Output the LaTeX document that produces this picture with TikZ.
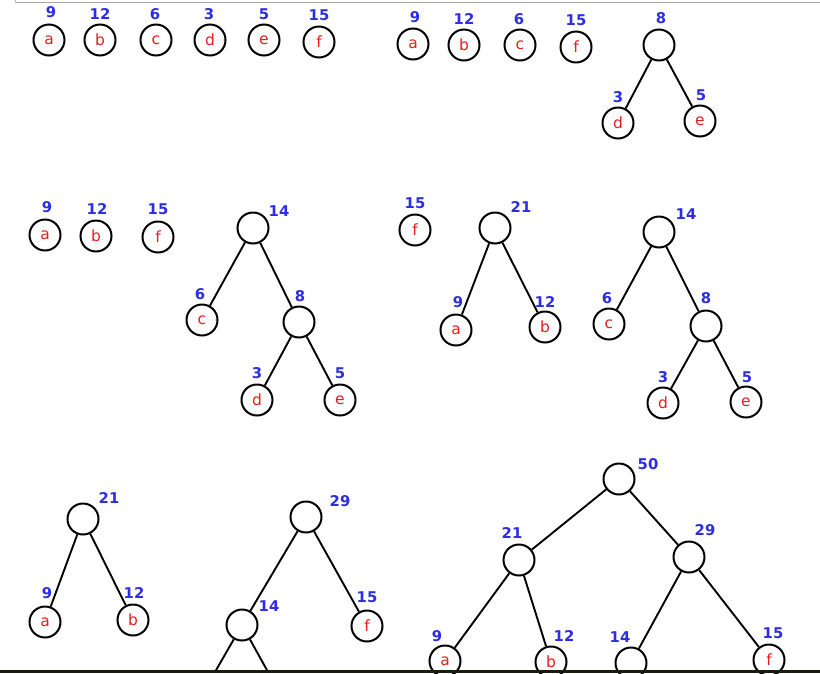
\documentclass[tikz,border=0pt]{standalone}
\usepackage{fontspec}
\newfontfamily\dvsans{DejaVu Sans}
\newfontfamily\dvbold{DejaVu Sans Bold}
\newcommand\lettfont{\dvsans\fontsize{15.5}{15.5}\selectfont}
\newcommand\numfont{\dvbold\fontsize{14.8}{14.8}\selectfont}
\definecolor{wblue}{RGB}{45,45,230}
\definecolor{lred}{RGB}{232,30,30}
\definecolor{barc}{RGB}{28,28,14}
\tikzset{
  tn/.style={circle, draw=black, line width=2pt, minimum size=31pt, inner sep=0pt, text=lred, font=\lettfont},
  wt/.style={text=wblue, font=\numfont, inner sep=0pt},
  ed/.style={line width=1.9pt, draw=black}
}
\begin{document}
\begin{tikzpicture}[x=1pt,y=-1pt]
\useasboundingbox (0,0) rectangle (820,673);
\fill[white] (0,0) rectangle (820,673);
\draw[black!35, line width=1pt] (15,2.5) -- (820,2.5);
\draw[black!25, line width=0.8pt] (15,0) -- (15,2.5);

% Panel 1
\node[tn] (p1a) at (49,40) {a};   \node[wt] (p1la) at (51,12) {9};
\node[tn] (p1b) at (100,40) {b};  \node[wt] (p1lb) at (100,14) {12};
\node[tn] (p1c) at (156,40) {c};  \node[wt] (p1lc) at (155,14) {6};
\node[tn] (p1d) at (210,40) {d};  \node[wt] (p1ld) at (209,14) {3};
\node[tn] (p1e) at (264,40) {e};  \node[wt] (p1le) at (264,14) {5};
\node[tn] (p1f) at (319,42) {f};  \node[wt] (p1lf) at (319,15) {15};

% Panel 2
\node[tn] (p2a) at (413,44) {a};  \node[wt] (p2la) at (415,17) {9};
\node[tn] (p2b) at (464,45) {b};  \node[wt] (p2lb) at (464,19) {12};
\node[tn] (p2c) at (520,45) {c};  \node[wt] (p2lc) at (519,19) {6};
\node[tn] (p2f) at (576,47) {f};  \node[wt] (p2lf) at (576,20) {15};
\node[tn] (p2n8) at (659,45) {};  \node[wt] (p2l8) at (661,18) {8};
\node[tn] (p2d) at (618,123) {d}; \node[wt] (p2ld) at (618,97) {3};
\node[tn] (p2e) at (700,121) {e}; \node[wt] (p2le) at (701,95) {5};
\draw[ed] (p2n8) -- (p2d);
\draw[ed] (p2n8) -- (p2e);

% Panel 3
\node[tn] (p3a) at (45,235) {a};   \node[wt] (p3la) at (47,207) {9};
\node[tn] (p3b) at (96,236) {b};   \node[wt] (p3lb) at (97,209) {12};
\node[tn] (p3f) at (158,237) {f};  \node[wt] (p3lf) at (158,209) {15};
\node[tn] (p3n14) at (253,228) {}; \node[wt] (p3l14) at (279,211) {14};
\node[tn] (p3c) at (202,320) {c};  \node[wt] (p3lc) at (200,294) {6};
\node[tn] (p3n8) at (299,322) {};  \node[wt] (p3l8) at (300,296) {8};
\node[tn] (p3d) at (257,400) {d};  \node[wt] (p3ld) at (257,373) {3};
\node[tn] (p3e) at (340,400) {e};  \node[wt] (p3le) at (340,373) {5};
\draw[ed] (p3n14) -- (p3c);
\draw[ed] (p3n14) -- (p3n8);
\draw[ed] (p3n8) -- (p3d);
\draw[ed] (p3n8) -- (p3e);

% Panel 4
\node[tn] (p4f) at (415,230) {f};  \node[wt] (p4lf) at (415,203) {15};
\node[tn] (p4n21) at (495,228) {}; \node[wt] (p4l21) at (521,207) {21};
\node[tn] (p4a) at (456,330) {a};  \node[wt] (p4la) at (458,302) {9};
\node[tn] (p4b) at (545,327) {b};  \node[wt] (p4lb) at (545,302) {12};
\node[tn] (p4n14) at (659,232) {}; \node[wt] (p4l14) at (686,214) {14};
\node[tn] (p4c) at (609,324) {c};  \node[wt] (p4lc) at (607,298) {6};
\node[tn] (p4n8) at (706,326) {};  \node[wt] (p4l8) at (706,298) {8};
\node[tn] (p4d) at (663,403) {d};  \node[wt] (p4ld) at (663,377) {3};
\node[tn] (p4e) at (746,402) {e};  \node[wt] (p4le) at (747,377) {5};
\draw[ed] (p4n21) -- (p4a);
\draw[ed] (p4n21) -- (p4b);
\draw[ed] (p4n14) -- (p4c);
\draw[ed] (p4n14) -- (p4n8);
\draw[ed] (p4n8) -- (p4d);
\draw[ed] (p4n8) -- (p4e);

% Panel 5
\node[tn] (p5n21) at (83,519) {};  \node[wt] (p5l21) at (109,498) {21};
\node[tn] (p5a) at (45,622) {a};   \node[wt] (p5la) at (47,593) {9};
\node[tn] (p5b) at (133,620) {b};  \node[wt] (p5lb) at (134,593) {12};
\node[tn] (p5n29) at (306,517) {}; \node[wt] (p5l29) at (340,501) {29};
\node[tn] (p5n14) at (242,625) {}; \node[wt] (p5l14) at (269,606) {14};
\node[tn] (p5f) at (367,626) {f};  \node[wt] (p5lf) at (367,597) {15};
\coordinate (p5cl) at (215,672);
\coordinate (p5cr) at (268,672);
\draw[ed] (p5n21) -- (p5a);
\draw[ed] (p5n21) -- (p5b);
\draw[ed] (p5n29) -- (p5n14);
\draw[ed] (p5n29) -- (p5f);
\draw[ed] (p5n14) -- (p5cl);
\draw[ed] (p5n14) -- (p5cr);

% Panel 6
\node[tn] (p6n50) at (619,479) {}; \node[wt] (p6l50) at (648,464) {50};
\node[tn] (p6n21) at (519,560) {}; \node[wt] (p6l21) at (512,533) {21};
\node[tn] (p6n29) at (689,557) {}; \node[wt] (p6l29) at (705,530) {29};
\node[tn] (p6a) at (445,661) {a};  \node[wt] (p6la) at (437,636) {9};
\node[tn] (p6b) at (551,662) {b};  \node[wt] (p6lb) at (564,636) {12};
\node[tn] (p6n14) at (631,663) {}; \node[wt] (p6l14) at (620,637) {14};
\node[tn] (p6f) at (769,660) {f};  \node[wt] (p6lf) at (773,633) {15};
\draw[ed] (p6n50) -- (p6n21);
\draw[ed] (p6n50) -- (p6n29);
\draw[ed] (p6n21) -- (p6a);
\draw[ed] (p6n21) -- (p6b);
\draw[ed] (p6n29) -- (p6n14);
\draw[ed] (p6n29) -- (p6f);

% bottom bar
\fill[barc] (0,669.5) rectangle (820,673);
\end{tikzpicture}
\end{document}
